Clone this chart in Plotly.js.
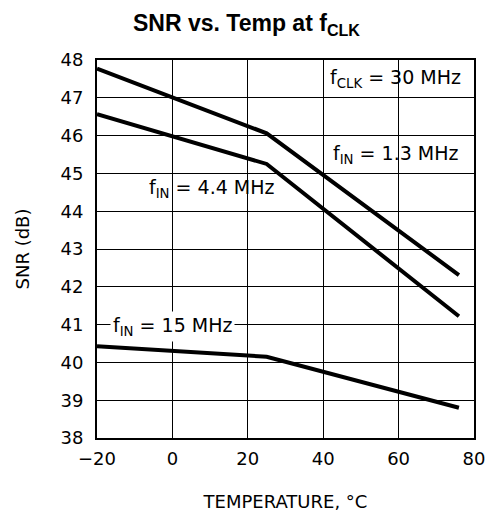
<!DOCTYPE html>
<html>
<head>
<meta charset="utf-8">
<script src="https://cdn.plot.ly/plotly-3.0.1.min.js"></script>
<style>
  html, body { margin: 0; padding: 0; background: #fff; }
  #chart { width: 493px; height: 519px; }
</style>
</head>
<body>
<div id="chart"></div>
<script>
// Temperature points (°C) for each curve: start, knee, end
const tempC = [-20, 25, 76];

// SNR (dB) at fCLK = 30 MHz for each input frequency
const snrFin13 = [47.77, 46.06, 42.31];
const snrFin44 = [46.57, 45.25, 41.22];
const snrFin15 = [40.43, 40.15, 38.80];

// Curve labels and their anchor points (data coordinates)
const labelText = ['f<sub>CLK</sub> = 30 MHz', 'f<sub>IN</sub> = 1.3 MHz', 'f<sub>IN</sub> = 4.4 MHz', 'f<sub>IN</sub> = 15 MHz'];
const labelX = [77.4, 41.9, 27.9, -16.6];
const labelY = [47.52, 45.49, 44.61, 40.94];
const labelAnchor = ['right', 'left', 'right', 'left'];
const labelBg = ['rgba(0,0,0,0)', 'rgba(0,0,0,0)', 'rgba(0,0,0,0)', '#fff'];

const techFont = 'DejaVu Sans, sans-serif';

const curve = (y) => ({
  x: tempC, y: y, type: 'scatter', mode: 'lines',
  line: { color: '#000', width: 4 }, hoverinfo: 'skip', showlegend: false
});

const data = [curve(snrFin13), curve(snrFin44), curve(snrFin15)];

const annotations = labelText.map((t, i) => ({
  x: labelX[i], y: labelY[i], xref: 'x', yref: 'y', text: t, showarrow: false,
  xanchor: labelAnchor[i], yanchor: 'middle',
  font: { family: techFont, size: 19, color: '#000' },
  bgcolor: labelBg[i], borderpad: 2
}));

const layout = {
  width: 493, height: 519,
  margin: { l: 97, r: 19, t: 60, b: 81 },
  paper_bgcolor: '#fff', plot_bgcolor: '#fff',
  title: {
    text: '<b>SNR vs. Temp at f<sub>CLK</sub></b>',
    font: { family: 'Liberation Sans, Arial, sans-serif', size: 23, color: '#000' },
    x: 0.5, xref: 'container', xanchor: 'center',
    y: 0.955, yref: 'container', yanchor: 'middle'
  },
  xaxis: {
    range: [-20, 80], dtick: 20, tick0: -20,
    showgrid: true, gridcolor: '#000', gridwidth: 1,
    showline: true, linecolor: '#000', linewidth: 2, mirror: true,
    zeroline: false, ticks: '', ticklabelstandoff: 3,
    tickfont: { family: techFont, size: 18, color: '#000' },
    title: { text: 'TEMPERATURE, °C', standoff: 28,
             font: { family: techFont, size: 18, color: '#000' } }
  },
  yaxis: {
    range: [38, 48], dtick: 1, tick0: 38,
    showgrid: true, gridcolor: '#000', gridwidth: 1,
    showline: true, linecolor: '#000', linewidth: 2, mirror: true,
    zeroline: false, ticks: '', ticklabelstandoff: 8,
    tickfont: { family: techFont, size: 18, color: '#000' },
    title: { text: 'SNR (dB)', standoff: 26,
             font: { family: techFont, size: 18, color: '#000' } }
  },
  annotations: annotations
};

Plotly.newPlot('chart', data, layout, { displayModeBar: false, staticPlot: true });
</script>
</body>
</html>
